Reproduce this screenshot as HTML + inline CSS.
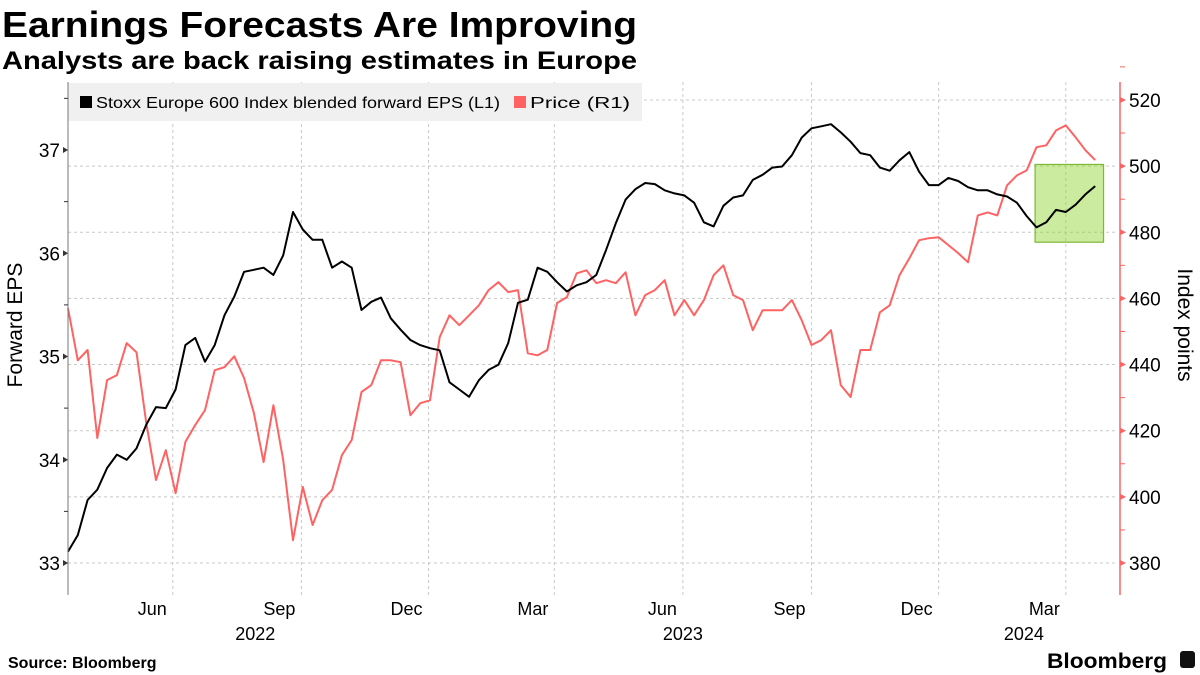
<!DOCTYPE html>
<html><head><meta charset="utf-8">
<style>
html,body{margin:0;padding:0;background:#fff;}
svg{display:block;font-family:"Liberation Sans",sans-serif;}
</style></head>
<body>
<svg id="chart" width="1200" height="675" viewBox="0 0 1200 675">
<text x="2" y="37" font-size="36" font-weight="bold" textLength="635" lengthAdjust="spacingAndGlyphs">Earnings Forecasts Are Improving</text>
<text x="2" y="69" font-size="25" font-weight="bold" textLength="635" lengthAdjust="spacingAndGlyphs">Analysts are back raising estimates in Europe</text>
<g id="grid"></g>
<rect x="68" y="83" width="574" height="38" fill="#f0f0f0"/>
<g>
<rect x="80" y="96" width="12" height="12" fill="#000"/>
<text x="96" y="108" font-size="16" textLength="404" lengthAdjust="spacingAndGlyphs">Stoxx Europe 600 Index blended forward EPS (L1)</text>
</g>
<g>
<rect x="514" y="96" width="12" height="12" fill="#ff6262"/>
<text x="530" y="108" font-size="16" textLength="100" lengthAdjust="spacingAndGlyphs">Price (R1)</text>
</g>
<g id="marks"></g>
<g id="axes"></g>
<text transform="translate(22,325) rotate(-90)" text-anchor="middle" font-size="21">Forward EPS</text>
<text transform="translate(1178,325) rotate(90)" text-anchor="middle" font-size="21">Index points</text>
<text x="8" y="668" font-size="16" font-weight="bold">Source: Bloomberg</text>
<text x="1047" y="668" font-size="21" font-weight="bold" textLength="120" lengthAdjust="spacingAndGlyphs">Bloomberg</text>
<rect x="1180" y="651" width="15" height="17" rx="3" fill="#111"/>
</svg>
<script>
const startDate = "2022-03-18";
const stepDays = 7;
const epsValues = [33.11,33.27,33.61,33.71,33.92,34.05,34.00,34.11,34.34,34.51,34.50,34.68,35.11,35.18,34.95,35.11,35.40,35.58,35.82,35.84,35.86,35.79,35.98,36.40,36.23,36.13,36.13,35.86,35.92,35.86,35.45,35.53,35.57,35.37,35.26,35.16,35.11,35.08,35.06,34.75,34.68,34.61,34.77,34.87,34.92,35.13,35.52,35.55,35.86,35.82,35.72,35.63,35.69,35.72,35.79,36.03,36.29,36.52,36.62,36.68,36.67,36.61,36.58,36.56,36.49,36.30,36.26,36.46,36.54,36.56,36.71,36.76,36.83,36.84,36.95,37.12,37.21,37.23,37.25,37.17,37.08,36.97,36.95,36.83,36.80,36.90,36.98,36.79,36.66,36.66,36.73,36.70,36.64,36.61,36.61,36.57,36.55,36.49,36.36,36.25,36.30,36.42,36.40,36.47,36.57,36.65];
const priceValues = [457.0,441.3,444.4,417.8,435.3,436.8,446.5,443.7,422.3,405.1,414.1,401.1,416.6,421.7,426.2,438.3,439.2,442.5,435.9,425.3,410.5,427.7,411.1,386.9,403.0,391.5,399.0,402.1,412.6,417.2,431.7,433.8,441.3,441.3,440.7,424.7,428.3,429.2,448.3,454.9,451.9,454.9,457.9,462.5,464.9,461.9,462.5,443.4,442.8,444.4,458.6,460.4,467.6,468.5,464.6,465.5,464.6,467.9,454.9,461.0,462.5,465.5,454.9,459.5,454.9,459.5,467.0,470.0,461.0,459.5,450.4,456.4,456.4,456.4,459.5,453.4,445.9,447.4,450.4,433.8,430.2,444.4,444.4,455.8,457.9,467.0,472.1,477.6,478.2,478.5,476.1,473.7,470.9,485.1,486.0,485.1,494.2,497.2,498.7,505.7,506.3,510.8,512.3,508.7,504.8,501.8];
const leftTicks = [33,34,35,36,37];
const rightTicks = [380,400,420,440,460,480,500,520];
const monthTicks = ["2022-06-01","2022-09-01","2022-12-01","2023-03-01","2023-06-01","2023-09-01","2023-12-01","2024-03-01"];
const monthLabels = ["Jun","Sep","Dec","Mar","Jun","Sep","Dec","Mar"];
const yearLabels = ["2022","2023","2024"];
const yearLabelDates = ["2022-07-30","2023-06-01","2024-01-31"];
const highlightDates = ["2024-02-08","2024-03-28"];
const highlightRange = [477, 500.5];

const NS = "http://www.w3.org/2000/svg";
const PL = 68, PR = 1118, PT = 82, PB = 595;
const t0 = Date.parse(startDate);
function dayOf(s){ return (Date.parse(s) - t0) / 86400000; }
function xScale(d){ return PL + d * 1.3975; }
function yLeft(v){ return 563 - (v - 33) * 103.25; }
function yRight(v){ return 563 - (v - 380) * 3.3075; }
function el(tag, attrs, parent){ const e = document.createElementNS(NS, tag); for (const k in attrs) e.setAttribute(k, attrs[k]); parent.appendChild(e); return e; }

const grid = document.getElementById("grid");
const marks = document.getElementById("marks");
const axes = document.getElementById("axes");

rightTicks.forEach(v => {
  const g = el("line", {x1:PL, x2:PR, y1:yRight(v), y2:yRight(v), stroke:"#c8c8c8", "stroke-dasharray":"3,3", "stroke-width":1}, grid);
  
  
});
monthTicks.forEach((m, i) => {
  const x = xScale(dayOf(m));
  const g = el("line", {x1:x, x2:x, y1:PT, y2:PB, stroke:"#c8c8c8", "stroke-dasharray":"3,3", "stroke-width":1}, grid);
  
  
  const t = el("text", {x:x-6, y:615, "font-size":18, "text-anchor":"end"}, axes);
  t.textContent = monthLabels[i];
  
  
});
yearLabels.forEach((y, i) => {
  const t = el("text", {x:xScale(dayOf(yearLabelDates[i])), y:640, "font-size":18, "text-anchor":"middle"}, axes);
  t.textContent = y;
  
  
});

const hx1 = xScale(dayOf(highlightDates[0])), hx2 = xScale(dayOf(highlightDates[1]));
const hl = el("rect", {x:hx1, y:yRight(highlightRange[1]), width:hx2-hx1, height:yRight(highlightRange[0])-yRight(highlightRange[1]), fill:"rgba(140,210,40,0.45)", stroke:"#7cb832", "stroke-width":1.2}, marks);



function pathFor(vals, ys){
  return vals.map((v,i) => (i ? "L" : "M") + xScale(i*stepDays).toFixed(1) + "," + ys(v).toFixed(1)).join(" ");
}
const pr = el("path", {d:pathFor(priceValues, yRight), fill:"none", stroke:"#ff6262", "stroke-width":2, "stroke-linejoin":"round"}, marks);


const ep = el("path", {d:pathFor(epsValues, yLeft), fill:"none", stroke:"#000", "stroke-width":2, "stroke-linejoin":"round"}, marks);



const la = el("line", {x1:PL, x2:PL, y1:PT, y2:PB, stroke:"#777", "stroke-width":1}, axes);


const ra = el("line", {x1:1120, x2:1120, y1:PT, y2:PB, stroke:"#ff6262", "stroke-width":1.5}, axes);



leftTicks.forEach(v => {
  const y = yLeft(v);
  const m = el("path", {d:`M${PL-5},${y-3} L${PL},${y} L${PL-5},${y+3} Z`, fill:"#333"}, axes);
  
  
  const t = el("text", {x:PL-8, y:y+7, "font-size":19, "text-anchor":"end"}, axes);
  t.textContent = v;
  
  
  const mm = el("line", {x1:PL-4, x2:PL, y1:yLeft(v+0.5), y2:yLeft(v+0.5), stroke:"#333"}, axes);
  
  
});
rightTicks.forEach(v => {
  const y = yRight(v);
  const m = el("path", {d:`M1120,${y-3} L1126,${y} L1120,${y+3} Z`, fill:"#ff6262"}, axes);
  
  
  const mm = el("line", {x1:1120, x2:1125, y1:yRight(v+10), y2:yRight(v+10), stroke:"#ff6262"}, axes);
  
  
  const t = el("text", {x:1129, y:y+7, "font-size":19}, axes);
  t.textContent = v;
  
  
});
</script>
</body></html>
